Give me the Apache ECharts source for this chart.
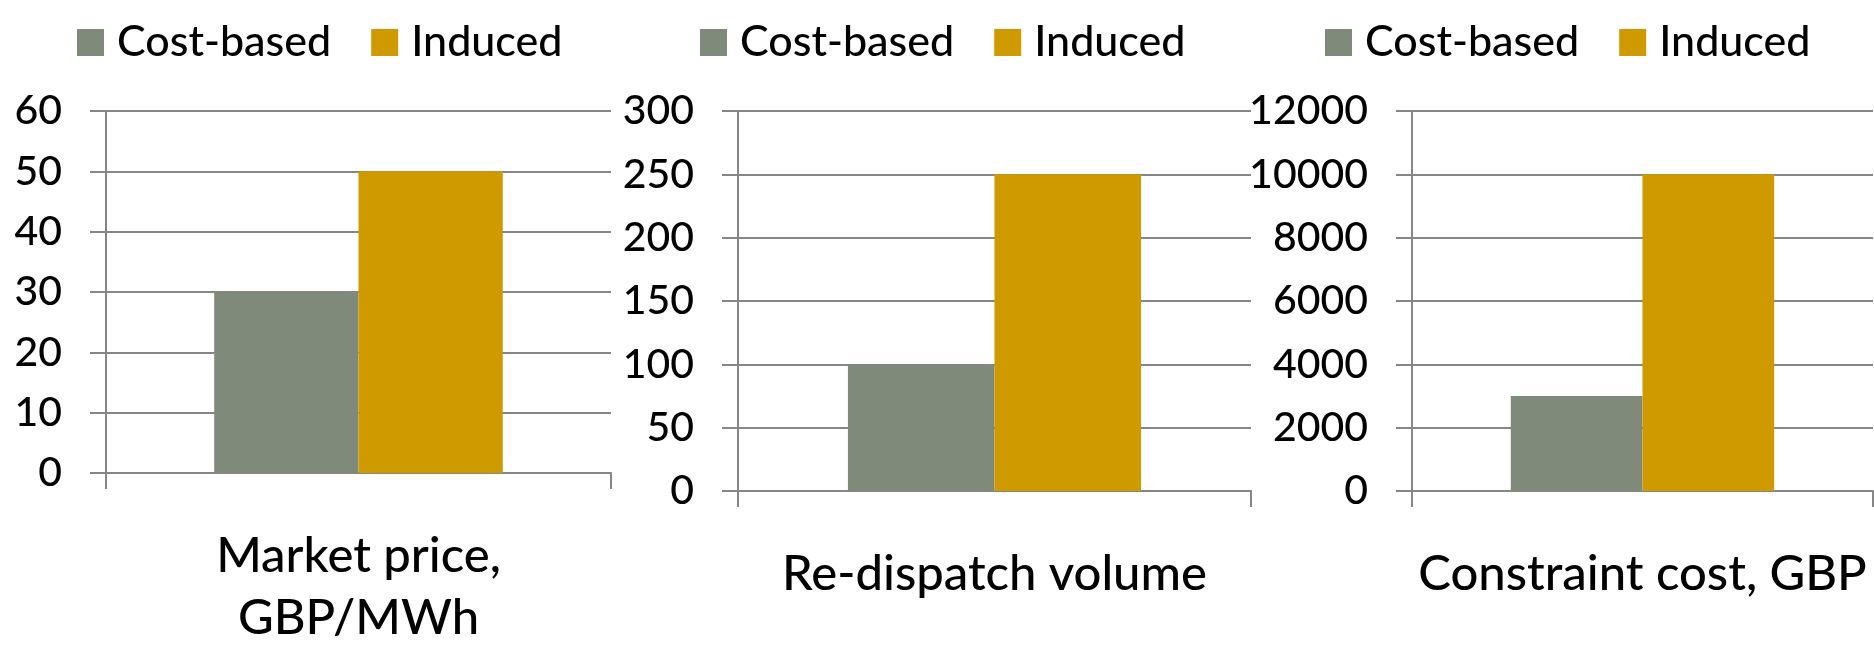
<!DOCTYPE html>
<html>
<head>
<meta charset="utf-8">
<script src="https://cdn.jsdelivr.net/npm/echarts@6/dist/echarts.min.js"></script>
<style>
  html, body { margin: 0; padding: 0; background: #fff; }
  #chart { width: 1874px; height: 649px; }
</style>
</head>
<body>
<div id="chart"></div>
<script>
// Metric names (one per panel)
const metrics = ['Market price,\nGBP/MWh', 'Re-dispatch volume', 'Constraint cost, GBP'];
// Values per scheme, in the same order as metrics
const costBased = [30, 100, 3000];
const induced = [50, 250, 10000];
// Value-axis ranges per panel
const axisMax = [60, 300, 12000];
const axisStep = [10, 50, 2000];
const seriesNames = ['Cost-based', 'Induced'];

const FONT = 'Lato, "Open Sans", sans-serif';
const WEIGHT = 500;
const LINE = '#868686';
const COLORS = ['#7f8a7a', '#cf9a00'];

// Plot boxes for the three panels
const grids = [
  { left: 106, top: 111, width: 505, height: 367 },
  { left: 738, top: 111, width: 513, height: 380 },
  { left: 1412, top: 111, width: 461, height: 380 }
];
const legendLeft = [72, 695, 1320];

const option = {
  animation: false,
  backgroundColor: '#ffffff',
  color: COLORS,
  textStyle: { fontFamily: FONT },
  legend: legendLeft.map(l => ({
    left: l,
    top: 16,
    data: seriesNames,
    icon: 'rect',
    itemWidth: 27,
    itemHeight: 27,
    itemGap: 40,
    textStyle: {
      fontFamily: FONT,
      fontWeight: WEIGHT,
      fontSize: 43,
      color: '#000',
      lineHeight: 28,
      padding: [0, 0, 0, 8]
    }
  })),
  grid: grids.map(g => Object.assign({ containLabel: false }, g)),
  xAxis: metrics.map((m, i) => ({
    type: 'category',
    gridIndex: i,
    data: [m],
    axisLine: { show: true, lineStyle: { color: LINE, width: 2 } },
    axisTick: { show: true, alignWithLabel: false, length: 16, lineStyle: { color: LINE, width: 2 } },
    axisLabel: {
      fontFamily: FONT,
      fontWeight: WEIGHT,
      fontSize: 49,
      lineHeight: 62,
      color: '#000',
      margin: 52,
      interval: 0
    }
  })),
  yAxis: axisMax.map((mx, i) => ({
    type: 'value',
    gridIndex: i,
    min: 0,
    max: mx,
    interval: axisStep[i],
    axisLine: { show: true, lineStyle: { color: LINE, width: 2 } },
    axisTick: { show: true, length: 16, lineStyle: { color: LINE, width: 2 } },
    splitLine: { show: true, lineStyle: { color: LINE, width: 2 } },
    axisLabel: {
      fontFamily: FONT,
      fontWeight: WEIGHT,
      fontSize: 41,
      color: '#000',
      margin: 44,
      formatter: v => String(v)
    }
  })),
  series: []
};

metrics.forEach((m, i) => {
  option.series.push({
    name: seriesNames[0],
    type: 'bar',
    xAxisIndex: i,
    yAxisIndex: i,
    data: [costBased[i]],
    barGap: '0%',
    barCategoryGap: '42.86%',
    itemStyle: { color: COLORS[0] }
  });
  option.series.push({
    name: seriesNames[1],
    type: 'bar',
    xAxisIndex: i,
    yAxisIndex: i,
    data: [induced[i]],
    barGap: '0%',
    barCategoryGap: '42.86%',
    itemStyle: { color: COLORS[1] }
  });
});

const chart = echarts.init(document.getElementById('chart'), null, { renderer: 'canvas' });
chart.setOption(option);
</script>
</body>
</html>
